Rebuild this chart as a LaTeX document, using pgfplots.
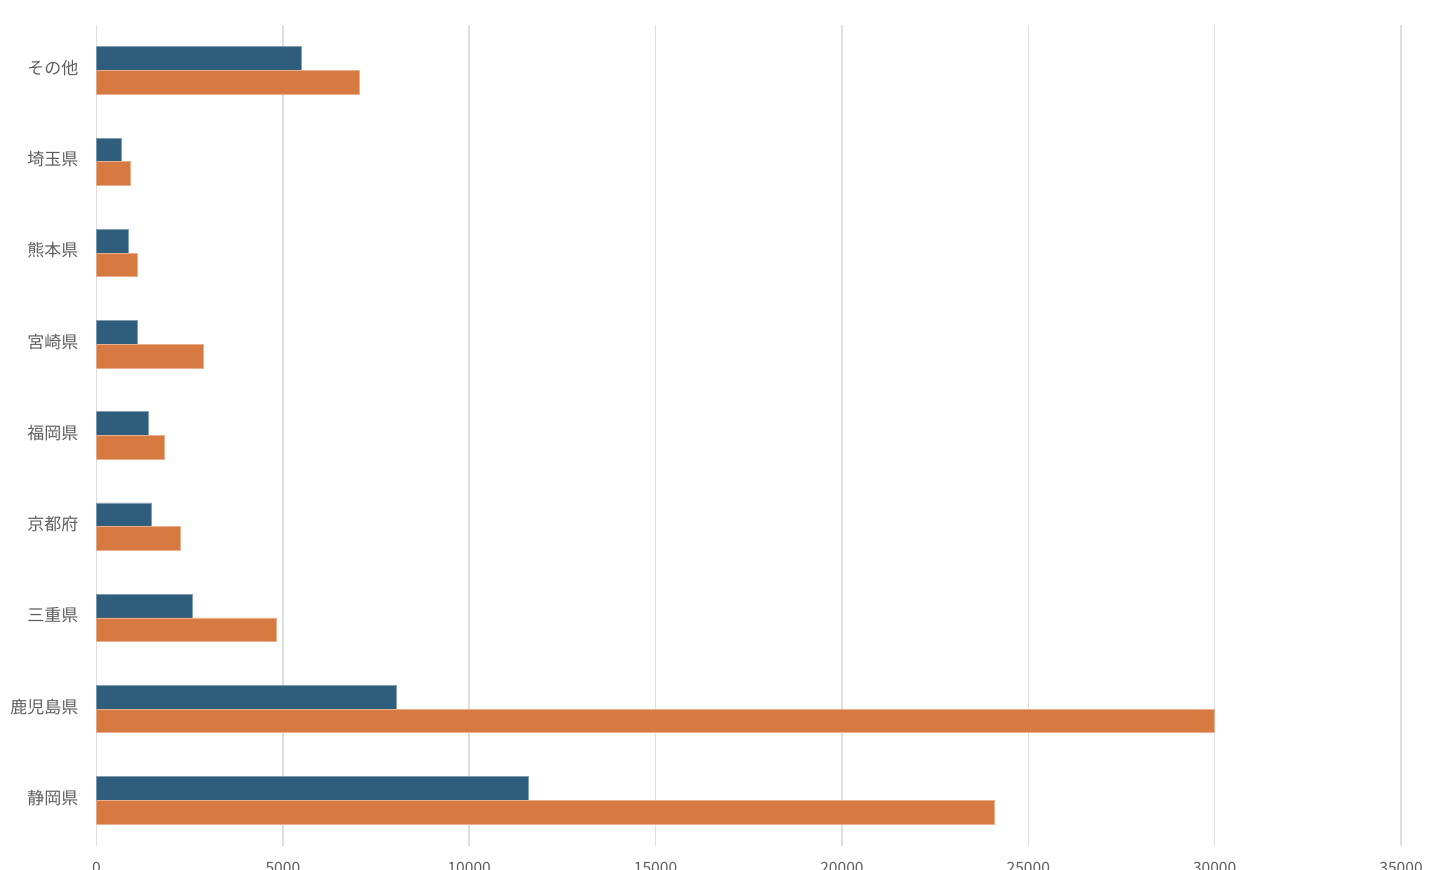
\documentclass[border=0pt]{standalone}
\usepackage{pgfplots}
\pgfplotsset{compat=1.18}
\usepackage{fontspec}
\setmainfont{Noto Sans CJK JP}
\definecolor{cblue}{HTML}{2F5D7C}
\definecolor{corange}{HTML}{D77A42}
\definecolor{cgrid}{HTML}{DEDEDE}
\definecolor{ctext}{HTML}{5E5E5E}
\begin{document}
\begin{tikzpicture}
\begin{axis}[
  scale only axis,
  width=652.25pt, height=410.5pt,
  xbar, bar width=0.26,
  xmin=0, xmax=35000,
  ymin=-0.5, ymax=8.5,
  xtick={0,5000,...,35000},
  ytick={0,...,8},
  yticklabels={静岡県,鹿児島県,三重県,京都府,福岡県,宮崎県,熊本県,埼玉県,その他},
  scaled x ticks=false,
  /pgf/number format/assume math mode=true,
  xticklabel={\pgfmathprintnumber[fixed,1000 sep={}]{\tick}},
  xmajorgrids,
  major grid style={cgrid, line width=0.75pt},
  axis line style={draw=none},
  major tick length=0pt,
  xticklabel style={font=\fontsize{7.8}{9}\selectfont, text=ctext, anchor=north, yshift=-4.4pt},
  yticklabel style={font=\fontsize{8.5}{10}\selectfont, text=ctext, xshift=-5.5pt, yshift=1.3pt},
]
\addplot[fill=cblue, draw=cblue!60!white, line width=0.4pt, bar shift=0.13] coordinates {
  (11590,0) (8050,1) (2560,2) (1480,3) (1400,4) (1100,5) (860,6) (670,7) (5500,8)
};
\addplot[fill=corange, draw=corange!60!white, line width=0.4pt, bar shift=-0.13] coordinates {
  (24090,0) (30000,1) (4830,2) (2250,3) (1820,4) (2870,5) (1100,6) (900,7) (7050,8)
};
\end{axis}
\pgfresetboundingbox
\useasboundingbox (-48.25pt,-12pt) rectangle (671.75pt,423pt);
\end{tikzpicture}
\end{document}
